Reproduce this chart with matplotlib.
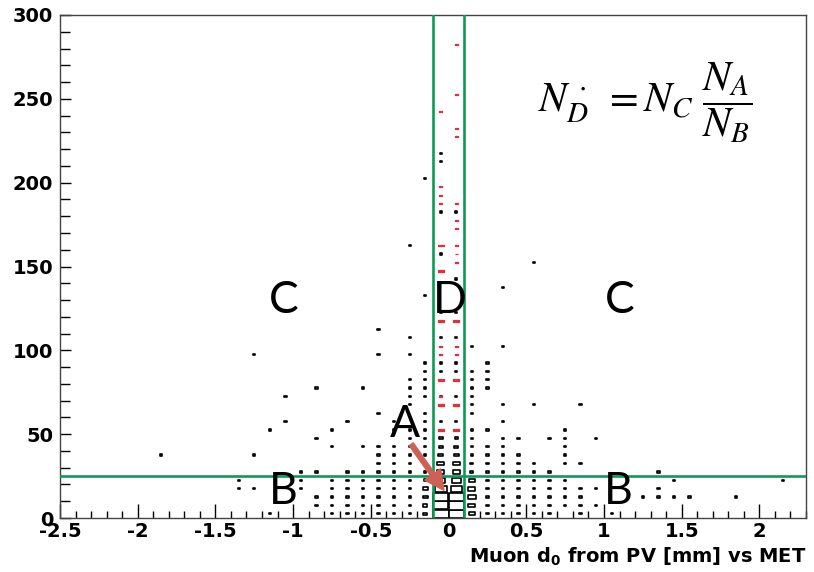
import matplotlib
matplotlib.use("Agg")
import matplotlib.pyplot as plt
from matplotlib.patches import Rectangle
from matplotlib.collections import PatchCollection

# 2D histogram, bins of 0.1 mm (d0) x 5 GeV (MET)
# (d0 bin centre, MET bin centre, entries)
black_cells = [
    (-1.15, 2.5, 1), (-0.75, 2.5, 1), (-0.65, 2.5, 1), (-0.55, 2.5, 1), (-0.45, 2.5, 2), (-0.35, 2.5, 3),
    (-0.25, 2.5, 8), (-0.15, 2.5, 16), (-0.05, 2.5, 60), (0.05, 2.5, 60), (0.15, 2.5, 22), (0.25, 2.5, 4),
    (0.35, 2.5, 2), (0.45, 2.5, 1), (0.55, 2.5, 2), (0.65, 2.5, 1), (0.85, 2.5, 1), (1.05, 2.5, 1),
    (-0.85, 7.5, 1), (-0.75, 7.5, 1), (-0.65, 7.5, 2), (-0.55, 7.5, 1), (-0.45, 7.5, 2), (-0.35, 7.5, 3),
    (-0.25, 7.5, 9), (-0.15, 7.5, 17), (-0.05, 7.5, 58), (0.05, 7.5, 59), (0.15, 7.5, 26), (0.25, 7.5, 10),
    (0.35, 7.5, 2), (0.45, 7.5, 2), (0.55, 7.5, 1), (0.65, 7.5, 1), (0.75, 7.5, 1), (0.85, 7.5, 2), (0.95, 7.5, 1),
    (-0.85, 12.5, 1), (-0.75, 12.5, 1), (-0.65, 12.5, 1), (-0.55, 12.5, 2), (-0.45, 12.5, 2), (-0.35, 12.5, 4),
    (-0.25, 12.5, 8), (-0.15, 12.5, 18), (-0.05, 12.5, 57), (0.05, 12.5, 58), (0.15, 12.5, 32), (0.25, 12.5, 6),
    (0.35, 12.5, 2), (0.45, 12.5, 2), (0.55, 12.5, 1), (0.65, 12.5, 1), (0.75, 12.5, 1), (0.85, 12.5, 1),
    (1.25, 12.5, 1), (1.35, 12.5, 1), (1.45, 12.5, 1), (1.55, 12.5, 1), (1.85, 12.5, 1),
    (-1.35, 17.5, 1), (-1.25, 17.5, 1), (-0.95, 17.5, 1), (-0.75, 17.5, 1), (-0.65, 17.5, 1), (-0.55, 17.5, 1),
    (-0.45, 17.5, 3), (-0.35, 17.5, 3), (-0.25, 17.5, 7), (-0.15, 17.5, 19), (-0.05, 17.5, 45), (0.05, 17.5, 42),
    (0.15, 17.5, 27), (0.25, 17.5, 4), (0.35, 17.5, 2), (0.45, 17.5, 1), (0.55, 17.5, 1), (0.65, 17.5, 1),
    (0.75, 17.5, 1), (0.85, 17.5, 1), (0.95, 17.5, 1), (1.35, 17.5, 1),
    (-1.35, 22.5, 1), (-0.95, 22.5, 1), (-0.75, 22.5, 1), (-0.65, 22.5, 1), (-0.55, 22.5, 2), (-0.45, 22.5, 2),
    (-0.35, 22.5, 2), (-0.25, 22.5, 8), (-0.15, 22.5, 13), (-0.05, 22.5, 34), (0.05, 22.5, 35), (0.15, 22.5, 23),
    (0.25, 22.5, 2), (0.35, 22.5, 2), (0.45, 22.5, 1), (0.55, 22.5, 1), (0.65, 22.5, 1), (0.75, 22.5, 1),
    (1.45, 22.5, 1), (2.15, 22.5, 1),
    (-0.95, 27.5, 1), (-0.85, 27.5, 1), (-0.65, 27.5, 1), (-0.55, 27.5, 1), (-0.45, 27.5, 2), (-0.35, 27.5, 2),
    (-0.25, 27.5, 3), (-0.15, 27.5, 5), (-0.05, 27.5, 27), (0.05, 27.5, 28), (0.15, 27.5, 12), (0.25, 27.5, 2),
    (0.35, 27.5, 1), (0.45, 27.5, 1), (0.55, 27.5, 1), (0.65, 27.5, 1), (1.35, 27.5, 1),
    (-0.45, 32.5, 1), (-0.35, 32.5, 1), (-0.25, 32.5, 2), (-0.15, 32.5, 3), (-0.05, 32.5, 26), (0.05, 32.5, 27),
    (0.15, 32.5, 12), (0.25, 32.5, 1), (0.35, 32.5, 1), (0.45, 32.5, 1), (0.55, 32.5, 1), (0.75, 32.5, 1), (0.85, 32.5, 1),
    (-1.85, 37.5, 1), (-1.25, 37.5, 1), (-0.45, 37.5, 1), (-0.35, 37.5, 1), (-0.25, 37.5, 1), (-0.15, 37.5, 2),
    (-0.05, 37.5, 19), (0.05, 37.5, 19), (0.15, 37.5, 3), (0.25, 37.5, 5), (0.35, 37.5, 1), (0.45, 37.5, 1), (0.75, 37.5, 1),
    (-0.75, 42.5, 1), (-0.55, 42.5, 1), (-0.45, 42.5, 1), (-0.35, 42.5, 1), (-0.25, 42.5, 1), (-0.15, 42.5, 1),
    (-0.05, 42.5, 15), (0.05, 42.5, 15), (0.15, 42.5, 2), (0.25, 42.5, 1), (0.35, 42.5, 1), (0.75, 42.5, 1),
    (-0.85, 47.5, 1), (-0.25, 47.5, 1), (-0.15, 47.5, 1), (-0.05, 47.5, 14), (0.05, 47.5, 13), (0.15, 47.5, 1),
    (0.35, 47.5, 1), (0.45, 47.5, 1), (0.65, 47.5, 1), (0.75, 47.5, 1), (0.95, 47.5, 1),
    (-1.15, 52.5, 1), (-0.75, 52.5, 1), (-0.35, 52.5, 1), (-0.25, 52.5, 1), (-0.15, 52.5, 1), (0.15, 52.5, 1),
    (0.25, 52.5, 1), (0.75, 52.5, 1),
    (-1.05, 57.5, 1), (-0.65, 57.5, 1), (-0.35, 57.5, 1), (-0.15, 57.5, 1), (-0.05, 57.5, 1), (0.05, 57.5, 1), (0.35, 57.5, 1),
    (-0.45, 62.5, 1), (-0.15, 62.5, 1), (0.15, 62.5, 1),
    (-0.25, 67.5, 1), (0.15, 67.5, 1), (0.35, 67.5, 1), (0.55, 67.5, 1), (0.85, 67.5, 1),
    (-1.05, 72.5, 1), (-0.25, 72.5, 1), (-0.15, 72.5, 1), (-0.05, 72.5, 2), (0.05, 72.5, 1), (0.15, 72.5, 1),
    (-0.85, 77.5, 1), (-0.55, 77.5, 1), (-0.25, 77.5, 1), (-0.15, 77.5, 1), (0.15, 77.5, 1), (0.25, 77.5, 1),
    (-0.25, 82.5, 1), (-0.15, 82.5, 1), (0.15, 82.5, 1), (0.25, 82.5, 1),
    (-0.15, 87.5, 1), (-0.05, 87.5, 1), (0.05, 87.5, 1), (0.15, 87.5, 1), (0.25, 87.5, 1),
    (-0.15, 92.5, 1), (-0.05, 92.5, 1), (0.05, 92.5, 1), (0.25, 92.5, 1),
    (-1.25, 97.5, 1), (-0.45, 97.5, 1), (-0.25, 97.5, 1),
    (0.15, 102.5, 1), (0.35, 102.5, 1),
    (-0.25, 107.5, 1), (-0.05, 107.5, 1), (0.05, 107.5, 1),
    (-0.45, 112.5, 1),
    (-0.05, 122.5, 1), (0.05, 122.5, 1),
    (-0.15, 132.5, 1), (0.35, 137.5, 1), (0.05, 142.5, 1), (0.55, 152.5, 1),
    (-0.05, 157.5, 1), (-0.25, 162.5, 1),
    (-0.05, 182.5, 1), (0.05, 182.5, 1),
    (-0.15, 202.5, 1), (-0.05, 212.5, 1), (-0.05, 217.5, 1),
]

# second (red) histogram, only in the central d0 bins
red_cells = [
    (-0.05, 52.5, 2), (-0.05, 67.5, 2), (-0.05, 72.5, 1), (-0.05, 82.5, 2), (-0.05, 97.5, 1),
    (-0.05, 102.5, 1), (-0.05, 117.5, 2), (-0.05, 147.5, 2), (-0.05, 162.5, 2), (-0.05, 187.5, 1),
    (-0.05, 192.5, 1), (-0.05, 197.5, 1), (-0.05, 242.5, 1),
    (0.05, 52.5, 2), (0.05, 67.5, 2), (0.05, 82.5, 2), (0.05, 97.5, 1), (0.05, 102.5, 1),
    (0.05, 117.5, 2), (0.05, 152.5, 1), (0.05, 157.5, 1), (0.05, 162.5, 1), (0.05, 172.5, 1),
    (0.05, 177.5, 1), (0.05, 187.5, 1), (0.05, 227.5, 1), (0.05, 232.5, 1), (0.05, 252.5, 1),
    (0.05, 282.5, 1),
]

d0_bin = 0.1
met_bin = 5.0
d0_cut = 0.1
met_cut = 25

x_ticks = [-2.5, -2, -1.5, -1, -0.5, 0, 0.5, 1, 1.5, 2]
x_tick_labels = ["-2.5", "-2", "-1.5", "-1", "-0.5", "0", "0.5", "1", "1.5", "2"]
y_ticks = [0, 50, 100, 150, 200, 250, 300]

green = "#0c9a56"
axis_font = "DejaVu Sans"


def boxes(cells, zmax, fmin, aspect=1.0):
    rects = []
    for x, y, n in cells:
        f = min(max(n / zmax, fmin), 1.0)
        w = d0_bin * f
        h = met_bin * f * aspect
        rects.append(Rectangle((x - w / 2, y - h / 2), w, h))
    return rects


fig = plt.figure(figsize=(8.14, 5.72), dpi=100)
ax = fig.add_axes([60 / 814, 54 / 572, 746 / 814, 503 / 572])

ax.add_collection(PatchCollection(boxes(black_cells, 60.0, 0.15), facecolor="white",
                                  edgecolor="black", linewidth=1.2, zorder=2))
ax.add_collection(PatchCollection(boxes(red_cells, 5.0, 0.16, aspect=0.5), facecolor="#e0303a",
                                  edgecolor="#e0303a", linewidth=0.9, zorder=3))

ax.axvline(-d0_cut, color=green, lw=1.9, zorder=4)
ax.axvline(d0_cut, color=green, lw=1.9, zorder=4)
ax.axhline(met_cut, color=green, lw=1.9, zorder=4)

ax.set_xlim(-2.5, 2.3)
ax.set_ylim(0, 300)
ax.set_xticks(x_ticks)
ax.set_xticklabels(x_tick_labels)
ax.set_yticks(y_ticks)
ax.set_xticks([v / 10 for v in range(-25, 24)], minor=True)
ax.set_yticks(list(range(0, 301, 10)), minor=True)
ax.tick_params(axis="both", which="both", direction="in", top=False, right=False)
ax.tick_params(axis="x", which="major", length=10, width=1, pad=3)
ax.tick_params(axis="x", which="minor", length=5, width=1)
ax.tick_params(axis="y", which="major", length=8, width=1, pad=5)
ax.tick_params(axis="y", which="minor", length=7, width=1)
for lab in ax.get_xticklabels() + ax.get_yticklabels():
    lab.set_fontfamily(axis_font)
    lab.set_fontweight("bold")
    lab.set_fontsize(14)
for s in ax.spines.values():
    s.set_color("#444444")
    s.set_linewidth(1.0)

ax.set_xlabel(r"Muon d$_{\mathbf{0}}$ from PV [mm] vs MET", loc="right",
              fontfamily=axis_font, fontweight="bold", fontsize=14, labelpad=3,
              math_fontfamily="dejavusans")

# region labels
lab_font = dict(fontfamily="Lato", fontsize=32, color="black", ha="center", va="center", zorder=5)
ax.text(-1.06, 130, "C", **lab_font)
ax.text(0.01, 130, "D", **lab_font)
ax.text(1.1, 130, "C", **lab_font)
ax.text(-1.06, 16, "B", **lab_font)
ax.text(1.09, 16, "B", **lab_font)
ax.text(-0.28, 56, "A", **lab_font)

ax.annotate("", xy=(-0.03, 16.5), xytext=(-0.24, 44),
            arrowprops=dict(facecolor="#cd6155", edgecolor="#cd6155", width=3.5,
                            headwidth=14, headlength=14), zorder=6)

ax.text(0.641, 0.825, r"$N^{\,\cdot}_{D}\ =N_{C}\ \dfrac{N_{A}}{N_{B}}$", transform=ax.transAxes,
        math_fontfamily="stix", fontsize=30, ha="left", va="center")

fig.savefig("out.png", dpi=100)
